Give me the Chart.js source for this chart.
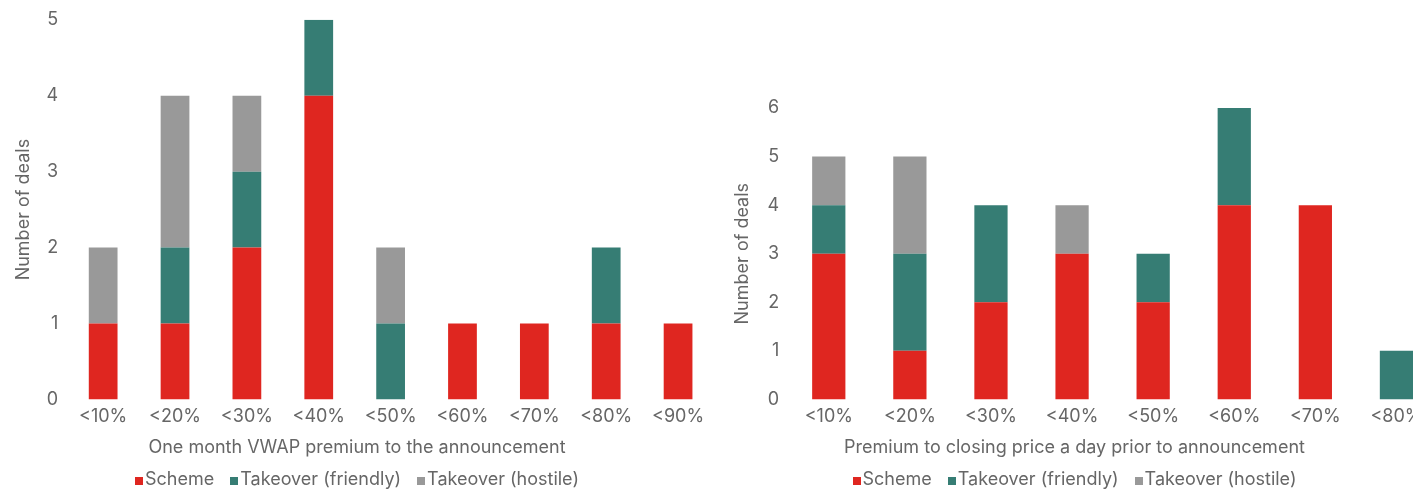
<!DOCTYPE html>
<html>
<head>
<meta charset="utf-8">
<script src="https://cdn.jsdelivr.net/npm/chart.js@4.4.0/dist/chart.umd.min.js"></script>
<style>
  html, body { margin: 0; padding: 0; background: #fff; overflow: hidden; }
  body { width: 1413px; height: 493px; position: relative; font-family: Inter, Roboto, sans-serif; }
  .panel { position: absolute; top: 0; height: 493px; }
  #leftPanel { left: 0; width: 714px; }
  #rightPanel { left: 712px; width: 725px; }
  .plot { position: relative; width: 100%; height: 462px; }
  .xtitle, .legend { position: absolute; left: 0; right: 0; text-align: center;
            font-size: 18px; color: #666; line-height: 26px; white-space: nowrap; }
  .xtitle { top: 434px; }
  .legend { top: 466px; }
  .legend .item { margin: 0 8px; }
  .legend i { display: inline-block; width: 8px; height: 8px; margin-right: 2px; }
</style>
</head>
<body>
<div class="panel" id="leftPanel">
  <div class="plot"><canvas id="vwapChart"></canvas></div>
  <div class="xtitle">One month VWAP premium to the announcement</div>
  <div class="legend" id="vwapLegend"></div>
</div>
<div class="panel" id="rightPanel">
  <div class="plot"><canvas id="closeChart"></canvas></div>
  <div class="xtitle">Premium to closing price a day prior to announcement</div>
  <div class="legend" id="closeLegend"></div>
</div>
<script>
const seriesNames = ["Scheme", "Takeover (friendly)", "Takeover (hostile)"];
const seriesColors = ["#df2620", "#367d74", "#999999"];

// one month VWAP premium buckets
const vwapLabels = ["<10%", "<20%", "<30%", "<40%", "<50%", "<60%", "<70%", "<80%", "<90%"];
const vwapScheme = [1, 1, 2, 4, 0, 1, 1, 1, 1];
const vwapFriendly = [0, 1, 1, 1, 1, 0, 0, 1, 0];
const vwapHostile = [1, 2, 1, 0, 1, 0, 0, 0, 0];

// premium to previous close buckets
const closeLabels = ["<10%", "<20%", "<30%", "<40%", "<50%", "<60%", "<70%", "<80%"];
const closeScheme = [3, 1, 2, 3, 2, 4, 4, 0];
const closeFriendly = [1, 2, 2, 0, 1, 2, 0, 1];
const closeHostile = [1, 2, 0, 1, 0, 0, 0, 0];

const TEXT = "#666666";
Chart.defaults.font.family = "Inter, Roboto, sans-serif";
Chart.defaults.font.size = 18;
Chart.defaults.color = TEXT;

const renderLegend = (el) => {
  el.innerHTML = seriesNames
    .map((name, i) => `<span class="item"><i style="background:${seriesColors[i]}"></i>${name}</span>`)
    .join("");
};

const renderStackedChart = (canvasId, labels, series, opts) => {
  const datasets = series.map((values, i) => ({
    label: seriesNames[i],
    data: values,
    backgroundColor: seriesColors[i],
    borderWidth: 0,
    categoryPercentage: 1,
    barPercentage: opts.barPct,
  }));

  const config = {
    type: "bar",
    data: { labels: labels, datasets: datasets },
    options: {
      animation: false,
      responsive: true,
      maintainAspectRatio: false,
      layout: { padding: opts.padding },
      plugins: {
        legend: { display: false },
        tooltip: { enabled: false },
      },
      scales: {
        x: {
          stacked: true,
          grid: { display: false, drawTicks: false },
          border: { display: false },
          ticks: { color: TEXT, padding: 6, maxRotation: 0 },
        },
        y: {
          stacked: true,
          min: 0,
          max: opts.yMax,
          grid: { display: false, drawTicks: false },
          border: { display: false },
          ticks: { stepSize: 1, color: TEXT, padding: 9 },
          title: {
            display: true,
            text: "Number of deals",
            color: TEXT,
            font: { size: 18 },
            padding: { top: 0, bottom: opts.yTitleGap },
          },
        },
      },
    },
  };
  new Chart(document.getElementById(canvasId), config);
};

renderStackedChart("vwapChart", vwapLabels, [vwapScheme, vwapFriendly, vwapHostile], {
  yMax: 5,
  barPct: 0.4,
  yTitleGap: 3,
  padding: { top: 12, left: 13, right: 0, bottom: 29 },
});
renderStackedChart("closeChart", closeLabels, [closeScheme, closeFriendly, closeHostile], {
  yMax: 6,
  barPct: 0.41,
  yTitleGap: 5,
  padding: { top: 108, left: 20, right: 0, bottom: 29 },
});

renderLegend(document.getElementById("vwapLegend"));
renderLegend(document.getElementById("closeLegend"));
</script>
</body>
</html>
